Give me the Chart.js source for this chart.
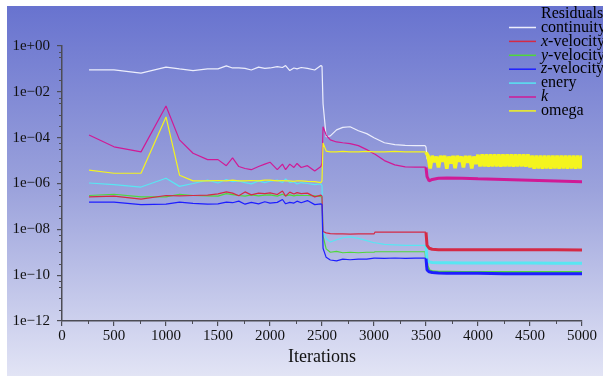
<!DOCTYPE html>
<html>
<head>
<meta charset="utf-8">
<script src="https://cdn.jsdelivr.net/npm/chart.js@4.4.1/dist/chart.umd.min.js"></script>
<style>
    html, body { margin: 0; padding: 0; background: #ffffff; }
    #wrap { width: 603px; height: 376px; }
</style>
</head>
<body>
<div id="wrap"><canvas id="residualChart" width="603" height="376"></canvas></div>
<script>
// Itérations communes à toutes les séries
const iterations = [
    260, 500, 760, 1000, 1130, 1260, 1400, 1500, 1580, 1640,
    1700, 1760, 1820, 1890, 1950, 2000, 2070, 2120, 2150, 2190,
    2230, 2260, 2300, 2360, 2430, 2490, 2500, 2510, 2540, 2580,
    2640, 2700, 2770, 2850, 2930, 3000, 3010, 3100, 3200, 3300,
    3400, 3490, 3500, 3510, 3530, 3560, 3620, 3700, 3850, 4000,
    4250, 4500, 4750, 5000
];

const continuity = [
    9e-2, 9e-2, 6.5e-2, 1.2e-1, 1e-1, 8.5e-2, 1e-1, 1e-1, 1.35e-1, 1.1e-1,
    1.1e-1, 1.05e-1, 9e-2, 1.2e-1, 1.05e-1, 1.1e-1, 1.25e-1, 1.15e-1, 1.4e-1, 8.5e-2,
    1.1e-1, 1e-1, 1.15e-1, 1.05e-1, 9e-2, 1.4e-1, 1.3e-1, 3e-3, 1.1e-4, 1.2e-4,
    2.2e-4, 2.8e-4, 3e-4, 2e-4, 1.5e-4, 1e-4, 9.5e-5, 6e-5, 5e-5, 4.6e-5,
    4.5e-5, 4.5e-5, 4e-5, 1.2e-5, 1e-5, 1e-5, 1e-5, 1e-5, 9.5e-6, 1e-5,
    9.5e-6, 9.5e-6, 9e-6, 9e-6
];

const xVelocity = [
    2.6e-7, 2.8e-7, 2.1e-7, 3e-7, 2.9e-7, 3e-7, 3.1e-7, 3.5e-7, 4.3e-7, 3.8e-7,
    2.9e-7, 4.3e-7, 3.2e-7, 3.8e-7, 3.6e-7, 3.9e-7, 3.3e-7, 4.7e-7, 2.8e-7, 4.2e-7,
    3.5e-7, 4e-7, 3.6e-7, 3.8e-7, 2.6e-7, 3.1e-7, 2.8e-7, 8e-9, 7e-9, 6.5e-9,
    6.3e-9, 6.3e-9, 6.2e-9, 6.3e-9, 6.3e-9, 6.3e-9, 7.6e-9, 7.6e-9, 7.6e-9, 7.6e-9,
    7.6e-9, 7.6e-9, 7.4e-9, 2e-9, 1.5e-9, 1.35e-9, 1.3e-9, 1.3e-9, 1.3e-9, 1.28e-9,
    1.28e-9, 1.27e-9, 1.27e-9, 1.26e-9
];

const yVelocity = [
    3e-7, 3.4e-7, 2.6e-7, 2.6e-7, 3.4e-7, 3e-7, 2.9e-7, 2.8e-7, 3.6e-7, 3.3e-7,
    3e-7, 2.8e-7, 3.2e-7, 2.9e-7, 3.1e-7, 3.2e-7, 2.8e-7, 3.4e-7, 2.9e-7, 3.2e-7,
    2.9e-7, 3.1e-7, 3e-7, 3e-7, 2.9e-7, 2.7e-7, 2.5e-7, 5e-9, 1.4e-9, 1e-9,
    1.1e-9, 9.5e-10, 1e-9, 9.5e-10, 1e-9, 1e-9, 1.05e-9, 1.05e-9, 1.05e-9, 1.05e-9,
    1.05e-9, 1.05e-9, 1e-9, 2.5e-10, 1.6e-10, 1.4e-10, 1.35e-10, 1.35e-10, 1.3e-10, 1.3e-10,
    1.3e-10, 1.3e-10, 1.3e-10, 1.3e-10
];

const zVelocity = [
    1.55e-7, 1.55e-7, 1.2e-7, 1.25e-7, 1.55e-7, 1.35e-7, 1.25e-7, 1.3e-7, 1.55e-7, 1.45e-7,
    1.7e-7, 1.25e-7, 1.5e-7, 1.3e-7, 1.6e-7, 1.4e-7, 1.5e-7, 2e-7, 1.3e-7, 1.5e-7,
    1.4e-7, 1.7e-7, 1.45e-7, 1.8e-7, 1.2e-7, 1.3e-7, 1.2e-7, 1.5e-9, 6e-10, 4.6e-10,
    4.2e-10, 5e-10, 4.7e-10, 5e-10, 5e-10, 5.5e-10, 5.5e-10, 5.4e-10, 5.6e-10, 5.4e-10,
    5.5e-10, 5.5e-10, 5.3e-10, 1.7e-10, 1.4e-10, 1.3e-10, 1.25e-10, 1.2e-10, 1.2e-10, 1.2e-10,
    1.15e-10, 1.15e-10, 1.15e-10, 1.15e-10
];

const enery = [
    1.05e-6, 9e-7, 7e-7, 1.7e-6, 7.5e-7, 1e-6, 1.4e-6, 1.05e-6, 1.5e-6, 1.2e-6,
    1.3e-6, 1.1e-6, 9.6e-7, 1.3e-6, 1.1e-6, 1.25e-6, 1.4e-6, 1.1e-6, 1.6e-6, 1.1e-6,
    1.2e-6, 9.5e-7, 1.1e-6, 1e-6, 9e-7, 9.5e-7, 8e-7, 8e-9, 4e-9, 2.8e-9,
    3.5e-9, 4.3e-9, 4.7e-9, 4e-9, 3.2e-9, 2.6e-9, 2.6e-9, 2.2e-9, 2.1e-9, 2e-9,
    2e-9, 2e-9, 1.9e-9, 4.5e-10, 3.8e-10, 3.6e-10, 3.5e-10, 3.5e-10, 3.4e-10, 3.4e-10,
    3.4e-10, 3.4e-10, 3.3e-10, 3.3e-10
];

const kResidual = [
    1.3e-4, 4e-5, 2.4e-5, 2.4e-3, 8e-5, 2.1e-5, 1.1e-5, 1.1e-5, 6e-6, 1.3e-5,
    5.5e-6, 4.5e-6, 4e-6, 5.5e-6, 7e-6, 8.5e-6, 4e-6, 7e-6, 4e-6, 7e-6,
    5e-6, 7.5e-6, 5e-6, 6e-6, 3.5e-6, 5.5e-6, 8e-6, 3e-4, 1.3e-4, 8e-5,
    6.5e-5, 6e-5, 5.5e-5, 4.5e-5, 3e-5, 2e-5, 1.9e-5, 1e-5, 6.5e-6, 5.3e-6,
    5.2e-6, 5.2e-6, 5e-6, 2e-6, 1.3e-6, 1.5e-6, 1.7e-6, 1.75e-6, 1.7e-6, 1.6e-6,
    1.5e-6, 1.4e-6, 1.3e-6, 1.2e-6
];

// omega : jusqu'à 3500, puis oscillation rapide
const omega = [
    3.8e-6, 2.8e-6, 2.8e-6, 8e-4, 2.3e-6, 1.3e-6, 1.3e-6, 1.35e-6, 1.3e-6, 1.4e-6,
    1.3e-6, 1.3e-6, 1.35e-6, 1.3e-6, 1.4e-6, 1.4e-6, 1.3e-6, 1.35e-6, 1.3e-6, 1.3e-6,
    1.25e-6, 1.3e-6, 1.3e-6, 1.25e-6, 1.2e-6, 1.1e-6, 1.3e-6, 5.8e-5, 2.6e-5, 2.4e-5,
    2.4e-5, 2.5e-5, 2.4e-5, 2.4e-5, 2.5e-5, 2.4e-5, 2.4e-5, 2.4e-5, 2.5e-5, 2.4e-5,
    2.4e-5, 2.4e-5, 2.3e-5
];

const omegaTailIterations = [
    3520, 3540, 3560, 3580, 3600, 3620, 3640, 3660, 3680, 3700,
    3720, 3740, 3760, 3780, 3800, 3820, 3840, 3860, 3880, 3900,
    3920, 3940, 3960, 3980, 4000, 4020, 4040, 4060, 4080, 4100,
    4120, 4140, 4160, 4180, 4200, 4220, 4240, 4260, 4280, 4300,
    4320, 4340, 4360, 4380, 4400, 4420, 4440, 4460, 4480, 4500,
    4520, 4540, 4560, 4580, 4600, 4620, 4640, 4660, 4680, 4700,
    4720, 4740, 4760, 4780, 4800, 4820, 4840, 4860, 4880, 4900,
    4920, 4940, 4960, 4980, 5000
];

const omegaTail = [
    1.6e-5, 4.5e-6, 1.6e-5, 8.5e-6, 1.5e-5, 5e-6, 1.6e-5, 9e-6, 1.6e-5, 4.4e-6,
    1.5e-5, 7.5e-6, 1.6e-5, 4.6e-6, 1.6e-5, 9e-6, 1.5e-5, 5e-6, 1.6e-5, 8e-6,
    1.6e-5, 4.5e-6, 1.5e-5, 7e-6, 1.8e-5, 5.5e-6, 1.9e-5, 5.6e-6, 1.9e-5, 5.4e-6,
    1.9e-5, 5.5e-6, 1.9e-5, 5.6e-6, 1.9e-5, 5.4e-6, 1.9e-5, 5.5e-6, 1.9e-5, 5.6e-6,
    1.9e-5, 5.4e-6, 1.9e-5, 5.5e-6, 1.9e-5, 5.6e-6, 1.9e-5, 5.4e-6, 1.9e-5, 5e-6,
    1.65e-5, 4.4e-6, 1.65e-5, 4.5e-6, 1.65e-5, 4.4e-6, 1.65e-5, 4.5e-6, 1.65e-5, 4.4e-6,
    1.65e-5, 4.5e-6, 1.65e-5, 4.4e-6, 1.65e-5, 4.5e-6, 1.65e-5, 4.4e-6, 1.65e-5, 4.5e-6,
    1.65e-5, 4.4e-6, 1.65e-5, 4.5e-6, 1.65e-5
];

// Graduations des axes
const xMajorStep = 500;
const xMinorTicks = [250, 750, 1250, 1750, 2250, 2750, 3250, 3750, 4250, 4750];
const yMajorTicks = [1, 1e-2, 1e-4, 1e-6, 1e-8, 1e-10, 1e-12];
const yMinorExponents = [-0.25, -0.5, -1, -1.5];

const axisColor = '#4c4c55';
const serifFont = '"Liberation Serif", "Times New Roman", serif';

// Légende : [préfixe italique, reste du libellé]
const legendLabels = [
    ['', 'continuity'],
    ['x', '-velocity'],
    ['y', '-velocity'],
    ['z', '-velocity'],
    ['', 'enery'],
    ['k', ''],
    ['', 'omega']
];
const seriesColors = ['#eceefc', '#d42a45', '#4fd83a', '#1e1eff', '#58e6f2', '#d01a96', '#f4f41e'];

function toPoints(values, xs) {
    return values.map((v, i) => ({ x: xs[i], y: v }));
}

function formatExponent(value) {
    const e = Math.round(Math.log10(value));
    return '1e' + (e < 0 ? '\u2212' : '+') + String(Math.abs(e)).padStart(2, '0');
}

// Fond dégradé
const backgroundPlugin = {
    id: 'gradientBackground',
    beforeDraw(chart) {
        const ctx = chart.ctx;
        ctx.save();
        ctx.fillStyle = '#ffffff';
        ctx.fillRect(0, 0, chart.width, chart.height);
        const grad = ctx.createLinearGradient(0, 6, 0, chart.height);
        grad.addColorStop(0, '#6873cf');
        grad.addColorStop(0.5, '#9ca3dc');
        grad.addColorStop(1, '#e2e4f5');
        ctx.fillStyle = grad;
        ctx.fillRect(7, 6, chart.width - 7, chart.height - 6);
        ctx.restore();
    }
};

// Petites graduations
const minorTicksPlugin = {
    id: 'minorTicks',
    afterDraw(chart) {
        const { ctx, scales: { x, y } } = chart;
        ctx.save();
        ctx.strokeStyle = axisColor;
        ctx.lineWidth = 1;
        ctx.beginPath();
        xMinorTicks.forEach(v => {
            const px = Math.round(x.getPixelForValue(v)) + 0.5;
            ctx.moveTo(px, y.bottom);
            ctx.lineTo(px, y.bottom + 3);
        });
        yMajorTicks.slice(0, -1).forEach(m => {
            yMinorExponents.forEach(d => {
                const py = Math.round(y.getPixelForValue(m * Math.pow(10, d))) + 0.5;
                ctx.moveTo(x.left - 3, py);
                ctx.lineTo(x.left, py);
            });
        });
        ctx.stroke();
        ctx.restore();
    }
};

// Légende dessinée à la main (titre "Residuals")
const residualLegendPlugin = {
    id: 'residualLegend',
    afterDraw(chart) {
        const ctx = chart.ctx;
        const normal = '16px ' + serifFont;
        const italic = 'italic 16px ' + serifFont;
        ctx.save();
        ctx.textBaseline = 'middle';
        ctx.fillStyle = '#000000';
        ctx.font = normal;
        ctx.fillText('Residuals', 541, 14);
        legendLabels.forEach((label, i) => {
            const yy = 27.5 + i * 13.9;
            ctx.strokeStyle = seriesColors[i];
            ctx.lineWidth = 1.5;
            ctx.beginPath();
            ctx.moveTo(509, yy);
            ctx.lineTo(536, yy);
            ctx.stroke();
            let tx = 541;
            if (label[0]) {
                ctx.font = italic;
                ctx.fillText(label[0], tx, yy);
                tx += ctx.measureText(label[0]).width;
            }
            ctx.font = normal;
            if (label[1]) ctx.fillText(label[1], tx, yy);
        });
        ctx.restore();
    }
};

function makeDataset(label, points, color, order, tailWidth) {
    return {
        label: label,
        data: points,
        borderColor: color,
        borderWidth: 1.2,
        borderJoinStyle: 'bevel',
        pointRadius: 0,
        tension: 0,
        fill: false,
        order: order,
        segment: {
            borderWidth: ctx => ctx.p0.parsed.x >= 3500 ? tailWidth : undefined
        }
    };
}

const omegaPoints = toPoints(omega, iterations).concat(toPoints(omegaTail, omegaTailIterations));

Chart.defaults.font.family = serifFont;
Chart.defaults.color = '#111111';

new Chart(document.getElementById('residualChart').getContext('2d'), {
    type: 'line',
    data: {
        datasets: [
            makeDataset('continuity', toPoints(continuity, iterations), seriesColors[0], 6, 1.2),
            makeDataset('x-velocity', toPoints(xVelocity, iterations), seriesColors[1], 2, 3),
            makeDataset('y-velocity', toPoints(yVelocity, iterations), seriesColors[2], 5, 3),
            makeDataset('z-velocity', toPoints(zVelocity, iterations), seriesColors[3], 1, 3),
            makeDataset('enery', toPoints(enery, iterations), seriesColors[4], 3, 3),
            makeDataset('k', toPoints(kResidual, iterations), seriesColors[5], 4, 3),
            makeDataset('omega', omegaPoints, seriesColors[6], 0, 3.6)
        ]
    },
    options: {
        responsive: false,
        animation: false,
        devicePixelRatio: 1,
        events: [],
        layout: {
            padding: { top: 46, right: 21, bottom: 0, left: 0 }
        },
        plugins: {
            legend: { display: false },
            tooltip: { enabled: false }
        },
        scales: {
            x: {
                type: 'linear',
                min: 0,
                max: 5000,
                afterFit: scale => { scale.height = 55; },
                ticks: {
                    stepSize: xMajorStep,
                    autoSkip: false,
                    maxRotation: 0,
                    padding: 1,
                    color: '#111111',
                    font: { size: 15 },
                    callback: value => String(value)
                },
                grid: {
                    drawOnChartArea: false,
                    drawTicks: true,
                    tickLength: 5,
                    color: axisColor,
                    lineWidth: 1.2
                },
                border: { display: true, color: axisColor, width: 1.5 },
                title: {
                    display: true,
                    text: 'Iterations',
                    color: '#111111',
                    font: { size: 18 },
                    padding: { top: 0, bottom: 8 }
                }
            },
            y: {
                type: 'logarithmic',
                min: 1e-12,
                max: 1,
                afterFit: scale => { scale.width = 62; },
                afterBuildTicks: scale => {
                    scale.ticks = yMajorTicks.map(v => ({ value: v }));
                },
                ticks: {
                    autoSkip: false,
                    padding: 7,
                    color: '#111111',
                    font: { size: 15 },
                    callback: value => formatExponent(value)
                },
                grid: {
                    drawOnChartArea: false,
                    drawTicks: true,
                    tickLength: 5,
                    color: axisColor,
                    lineWidth: 1.2
                },
                border: { display: true, color: axisColor, width: 1.5 }
            }
        }
    },
    plugins: [backgroundPlugin, minorTicksPlugin, residualLegendPlugin]
});
</script>
</body>
</html>
